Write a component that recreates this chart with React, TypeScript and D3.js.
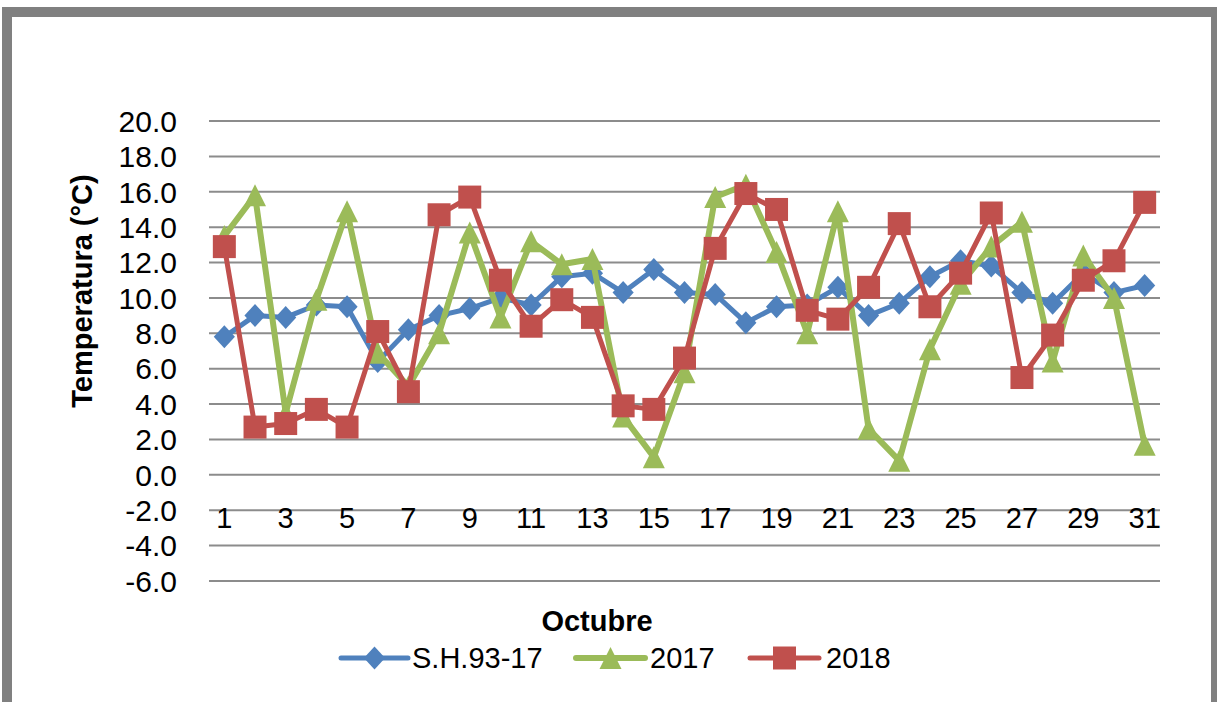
import { useEffect, useRef } from 'react';
import * as d3 from 'd3';

const days = d3.range(1, 32).map(String);
const yTicks = [-6, -4, -2, 0, 2, 4, 6, 8, 10, 12, 14, 16, 18, 20];

// S.H.93-17 (serie historica)
const serieHistorica = [7.8, 9.0, 8.9, 9.6, 9.5, 6.4, 8.2, 9.0, 9.4, 10.0, 9.6, 11.2, 11.4, 10.3, 11.6, 10.3,
    10.2, 8.6, 9.5, 9.6, 10.6, 9.0, 9.7, 11.2, 12.1, 11.8, 10.3, 9.7, 11.4, 10.3, 10.7];
const year2017 = [13.5, 15.8, 3.5, 9.9, 14.9, 6.9, 5.0, 8.0, 13.7, 8.9, 13.2, 11.9, 12.2, 3.3, 1.0, 5.8,
    15.7, 16.4, 12.6, 8.0, 14.9, 2.6, 0.8, 7.1, 10.8, 12.9, 14.3, 6.4, 12.4, 10.0, 1.7];
const year2018 = [12.9, 2.7, 2.9, 3.7, 2.7, 8.1, 4.7, 14.7, 15.7, 11.0, 8.4, 9.9, 8.9, 3.9, 3.7, 6.6,
    12.8, 15.9, 15.0, 9.3, 8.8, 10.6, 14.2, 9.5, 11.4, 14.8, 5.5, 7.9, 11.0, 12.1, 15.4];

const seriesNames = ['S.H.93-17', '2017', '2018'];

const W = 1217, H = 702;
const FONT = "'Liberation Sans', Arial, sans-serif";

function markerPath(kind, size) {
    if (kind === 'diamond') {
        const h = size / 2, w = size * 0.46;
        return `M0,${-h}L${w},0L0,${h}L${-w},0Z`;
    }
    if (kind === 'triangle') {
        const h = size / 2;
        return `M0,${-h}L${h},${h}L${-h},${h}Z`;
    }
    const h = size / 2;
    return `M${-h},${-h}H${h}V${h}H${-h}Z`;
}

const renderChart = (svgEl) => {
    const svg = d3.select(svgEl);
    svg.selectAll('*').remove();

    svg.append('rect').attr('width', W).attr('height', H).attr('fill', 'white');
    // outer frame
    svg.append('rect')
        .attr('x', 7).attr('y', 12)
        .attr('width', 1209).attr('height', 720)
        .attr('fill', 'none')
        .attr('stroke', '#808080')
        .attr('stroke-width', 10);

    const x = d3.scaleBand().domain(days).range([209, 1160]);
    const y = d3.scaleLinear().domain([-6, 20]).range([581, 121]);
    const cx = d => x(d) + x.bandwidth() / 2;

    // grid lines
    svg.append('g').selectAll('line')
        .data(yTicks)
        .enter().append('line')
        .attr('x1', 209).attr('x2', 1160)
        .attr('y1', d => y(d)).attr('y2', d => y(d))
        .attr('stroke', '#8c8c8c')
        .attr('stroke-width', 2);

    // y tick labels (plain hyphen for negatives, like the original)
    svg.append('g').selectAll('text')
        .data(yTicks)
        .enter().append('text')
        .attr('x', 177)
        .attr('y', d => y(d))
        .attr('dy', '0.36em')
        .attr('text-anchor', 'end')
        .style('font-family', FONT)
        .style('font-size', '30px')
        .attr('fill', '#000')
        .text(d => d.toFixed(1));

    // x tick labels (every other day)
    svg.append('g').selectAll('text')
        .data(days.filter((d, i) => i % 2 === 0))
        .enter().append('text')
        .attr('x', d => cx(d))
        .attr('y', 528)
        .attr('text-anchor', 'middle')
        .style('font-family', FONT)
        .style('font-size', '29px')
        .attr('fill', '#000')
        .text(d => d);

    // axis titles
    svg.append('text')
        .attr('transform', 'translate(92,291) rotate(-90)')
        .attr('text-anchor', 'middle')
        .style('font-family', FONT)
        .style('font-size', '29px')
        .style('font-weight', 'bold')
        .text('Temperatura  (°C)');

    svg.append('text')
        .attr('x', 597).attr('y', 631)
        .attr('text-anchor', 'middle')
        .style('font-family', FONT)
        .style('font-size', '29px')
        .style('font-weight', 'bold')
        .text('Octubre');

    const series = [
        { name: seriesNames[0], values: serieHistorica, color: '#4f81bd', marker: 'diamond', size: 23, width: 5 },
        { name: seriesNames[1], values: year2017, color: '#9bbb59', marker: 'triangle', size: 22, width: 6 },
        { name: seriesNames[2], values: year2018, color: '#c0504d', marker: 'square', size: 23, width: 5 },
    ];

    const line = d3.line().x((d, i) => cx(days[i])).y(d => y(d));

    series.forEach(s => {
        const g = svg.append('g');
        g.append('path')
            .attr('d', line(s.values))
            .attr('fill', 'none')
            .attr('stroke', s.color)
            .attr('stroke-width', s.width)
            .attr('stroke-linejoin', 'round');
        g.selectAll('path.mk')
            .data(s.values)
            .enter().append('path')
            .attr('class', 'mk')
            .attr('transform', (d, i) => `translate(${cx(days[i])},${y(d)})`)
            .attr('d', markerPath(s.marker, s.size))
            .attr('fill', s.color);
    });

    // legend
    const legendPos = [
        { x1: 341, x2: 408, tx: 412 },
        { x1: 576, x2: 645, tx: 650 },
        { x1: 750, x2: 819, tx: 826 },
    ];
    const ly = 658;
    series.forEach((s, i) => {
        const p = legendPos[i];
        const g = svg.append('g');
        g.append('line')
            .attr('x1', p.x1).attr('x2', p.x2)
            .attr('y1', ly).attr('y2', ly)
            .attr('stroke', s.color)
            .attr('stroke-width', s.width)
            .attr('stroke-linecap', 'round');
        g.append('path')
            .attr('transform', `translate(${(p.x1 + p.x2) / 2},${ly})`)
            .attr('d', markerPath(s.marker, s.size))
            .attr('fill', s.color);
        g.append('text')
            .attr('x', p.tx).attr('y', ly)
            .attr('dy', '0.36em')
            .style('font-family', FONT)
            .style('font-size', '29px')
            .text(s.name);
    });
};

const App = () => {
    const ref = useRef(null);

    useEffect(() => {
        renderChart(ref.current);
    }, []);

    return (
        <svg ref={ref} width={W} height={H} style={{ position: 'absolute', left: 0, top: 0 }} />
    );
};

export default App;
